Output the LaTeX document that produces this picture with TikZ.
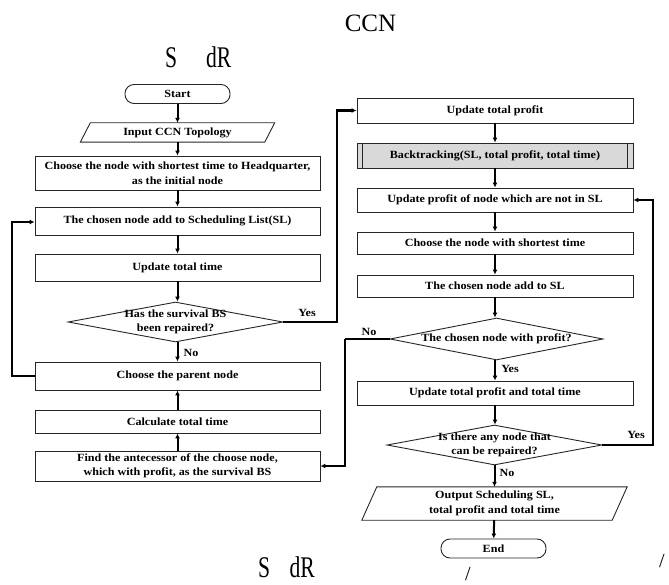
\documentclass[tikz,border=0pt]{standalone}
\usepackage{fontspec}
\setmainfont{Liberation Serif}
\newfontfamily\bxfont[FakeStretch=1.1]{Liberation Serif}
\usetikzlibrary{shapes.geometric,arrows.meta}
\tikzset{
  box/.style={draw=black!85,line width=0.9pt,minimum width=285pt,inner sep=0pt,
    font=\bxfont\bfseries\fontsize{11}{14.5}\selectfont,align=center},
  rbox/.style={box,minimum width=276pt},
  term/.style={draw=black!85,line width=0.9pt,rounded corners=9pt,minimum width=105pt,
    minimum height=19pt,inner sep=0pt,font=\bxfont\bfseries\fontsize{11}{13}\selectfont},
  dia/.style={draw=black!85,line width=0.9pt,diamond,inner sep=0pt},
  dtext/.style={inner sep=0pt,font=\bxfont\bfseries\fontsize{11}{14.5}\selectfont,align=center},
  ghost/.style={inner sep=0pt,font=\bxfont\bfseries\fontsize{11}{15.5}\selectfont,align=center},
  lbl/.style={inner sep=0pt,font=\bxfont\bfseries\fontsize{11}{12}\selectfont},
  arr/.style={-{Latex[length=5pt,width=5pt]},line width=2pt,black},
  loop/.style={-{Latex[length=5pt,width=5pt]},line width=2.8pt,black},
  big/.style={inner sep=0pt,font=\fontsize{30}{30}\selectfont},
}
\begin{document}
\begin{tikzpicture}[x=1pt,y=-1pt]
\useasboundingbox (0,0) rectangle (669,585);
\clip (0,0) rectangle (669,585);
% titles
\node[inner sep=0pt,anchor=base,font=\fontsize{25}{25}\selectfont] (t1) at (370.5,32) {CCN};
\node[big,anchor=base west] (t2) at (165,68) {\scalebox{0.72}[1]{S\hspace{40pt}dR}};
\node[big,anchor=base west,text depth=0pt] (t3) at (258,577) {\scalebox{0.72}[1]{S\hspace{27pt}dR}};
\node[inner sep=0pt,anchor=base,font=\fontsize{20}{20}\selectfont,text depth=0pt] (t4) at (468,580) {/};
\node[inner sep=0pt,anchor=base,font=\fontsize{20}{20}\selectfont] (t5) at (662,567) {/};

% left column
\node[term] (start) at (177.5,94) {Start};
\node[ghost,minimum width=184pt,minimum height=19pt] (inp) at (177.5,132.5) {Input CCN Topology};
\draw[draw=black!85,line width=0.9pt] ([xshift=5pt]inp.north west) -- ([xshift=5pt]inp.north east)
  -- ([xshift=-5pt]inp.south east) -- ([xshift=-5pt]inp.south west) -- cycle;
\node[box,minimum height=34pt] (hq) at (177.5,173) {Choose the node with shortest time to Headquarter,\\as the initial node};
\node[box,minimum height=28pt] (addsl) at (177.5,221) {The chosen node add to Scheduling List(SL)};
\node[box,minimum height=27pt] (utt) at (177.5,267.5) {Update total time};
\node[dia,minimum width=215pt,minimum height=40pt] (d1) at (175.5,322) {};
\node[dtext] (d1t) at (d1) {Has the survival BS\\been repaired?};
\node[box,minimum height=28pt] (par) at (177.5,376) {Choose the parent node};
\node[box,minimum height=23pt] (calc) at (177.5,421.5) {Calculate total time};
\node[box,minimum height=30pt] (find) at (177.5,466) {Find the antecessor of the choose node,\\which with profit, as the survival BS};

% right column
\node[rbox,minimum height=25pt] (utp) at (495,110.5) {Update total profit};
\node[rbox,minimum height=25pt,fill=black!15] (bt) at (495,155.5) {Backtracking(SL, total profit, total time)};
\draw[draw=black!85,line width=0.9pt] ([xshift=6pt]bt.north west) -- ([xshift=6pt]bt.south west);
\draw[draw=black!85,line width=0.9pt] ([xshift=-6pt]bt.north east) -- ([xshift=-6pt]bt.south east);
\node[rbox,minimum height=24pt] (upn) at (495,200) {Update profit of node which are not in SL};
\node[rbox,minimum height=22pt] (cst) at (495,243) {Choose the node with shortest time};
\node[rbox,minimum height=22pt] (add2) at (495,286) {The chosen node add to SL};
\node[dia,minimum width=213pt,minimum height=42pt] (d2) at (496.5,339) {};
\node[dtext] (d2t) at (d2) {The chosen node with profit?};
\node[rbox,minimum height=24pt] (utpt) at (495,393) {Update total profit and total time};
\node[dia,minimum width=215pt,minimum height=40pt] (d3) at (494.5,445) {};
\node[dtext] (d3t) at (d3) {Is there any node that\\can be repaired?};
\node[ghost,minimum width=250pt,minimum height=33pt] (out) at (494.5,503.5) {Output Scheduling SL,\\total profit and total time};
\draw[draw=black!85,line width=0.9pt] ([xshift=7.5pt]out.north west) -- ([xshift=7.5pt]out.north east)
  -- ([xshift=-7.5pt]out.south east) -- ([xshift=-7.5pt]out.south west) -- cycle;
\node[term] (end) at (493.5,548.5) {End};

% arrows left
\draw[arr] (start) -- (inp);
\draw[arr] (inp) -- (hq);
\draw[arr] (hq) -- (addsl);
\draw[arr] (addsl) -- (utt);
\draw[arr] (utt) -- (d1.north -| utt);
\draw[arr] (d1.south -| par) -- (par);
\draw[arr] (calc) -- (par);
\draw[arr] (find) -- (calc);
% arrows right
\draw[arr] (utp) -- (bt);
\draw[arr] (bt) -- (upn);
\draw[arr] (upn) -- (cst);
\draw[arr] (cst) -- (add2);
\draw[arr] (add2.south) -- (d2.north -| add2);
\draw[arr] (d2.south -| utpt) -- (utpt);
\draw[arr] (utpt) -- (d3.north -| utpt);
\draw[arr] (d3.south -| out) -- (out);
\draw[arr] (out) -- (end);

% loops
\coordinate (l1) at (12,376);
\coordinate (l2) at (12,222);
\draw[loop] (par.west) -- (l1) -- (l2) -- (l2 -| addsl.west);
\coordinate (y1) at (337,322);
\coordinate (y2) at (337,110.5);
\draw[loop] (d1.east) -- (y1) -- (y2) -- (utp.west);
\coordinate (n1) at (345,339);
\coordinate (n2) at (345,466);
\draw[line width=1.8pt] (d2.west) -- (n1);
\draw[loop] (n1) -- (n2) -- (find.east);
\coordinate (r1) at (653,445);
\coordinate (r2) at (653,200);
\draw[loop] (d3.east) -- (r1) -- (r2) -- (upn.east);

% labels
\node[lbl] (yes1) at (307,313) {Yes};
\node[lbl] (no1) at (191,353) {No};
\node[lbl] (no2) at (369,332) {No};
\node[lbl] (yes2) at (510,369) {Yes};
\node[lbl] (yes3) at (636,435) {Yes};
\node[lbl] (no3) at (507,473) {No};
\end{tikzpicture}
\end{document}
